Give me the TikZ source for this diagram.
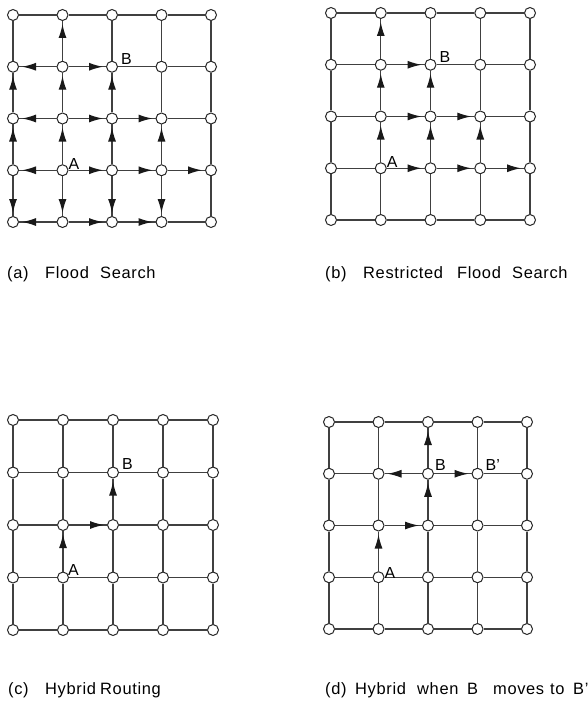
\documentclass[tikz,border=0pt]{standalone}
\usepackage{fontspec}
\setmainfont{Liberation Sans}
\usetikzlibrary{arrows.meta}
\tikzset{
  vtx/.style={circle,draw=black!85,fill=white,line width=1bp,minimum size=11bp,inner sep=0pt},
  gedge/.style={draw=black!75,line width=1.3bp},
  garr/.style={gedge,-{Latex[length=14bp,width=8bp,color=black!90]},shorten >=3bp},
  lbl/.style={anchor=base west,inner sep=0pt,font=\fontsize{16}{19}\selectfont},
  captxt/.style={anchor=base west,inner sep=0pt,font=\fontsize{16.5}{19}\selectfont\addfontfeature{LetterSpace=4}},
}
\newcommand\drawgrid[5]{%
  \foreach \i in {0,...,4}{\foreach \j in {0,...,4}{
    \node[vtx] (#1\i\j) at ({#2+\i*#4},{#3+\j*#5}) {};}}
  \foreach \i in {0,...,4}{\foreach \j [count=\k] in {0,...,3}{
    \draw[gedge] (#1\i\j) -- (#1\i\k);
    \draw[gedge] (#1\j\i) -- (#1\k\i);}}
}
\begin{document}
\begin{tikzpicture}[x=1bp,y=-1bp]
\useasboundingbox (0,0) rectangle (588,702);
% (a) Flood search
\drawgrid{a}{13}{15}{49.5}{51.75}
\foreach \s/\t in {13/03,13/23,13/12,13/14,03/02,03/04,12/02,12/22,12/11,02/01,
  11/01,11/21,11/10,23/33,23/22,23/24,22/32,22/21,33/43,33/32,33/34,14/04,14/24,24/34}
  \draw[garr] (a\s) -- (a\t);
\node[lbl] (aA) at ([xshift=6bp,yshift=1bp]a13.center) {A};
\node[lbl] (aB) at ([xshift=9bp,yshift=2bp]a21.center) {B};
\node[captxt] (capa) at (7,278) {\makebox[38bp][l]{(a)}\makebox[55bp][l]{Flood}Search};
% (b) Restricted flood search
\drawgrid{b}{331}{13}{49.75}{51.75}
\foreach \s/\t in {13/23,23/33,33/43,13/12,12/11,11/10,12/22,22/32,11/21,23/22,22/21,33/32}
  \draw[garr] (b\s) -- (b\t);
\node[lbl] (bA) at ([xshift=6bp,yshift=1bp]b13.center) {A};
\node[lbl] (bB) at ([xshift=9bp,yshift=2bp]b21.center) {B};
\node[captxt] (capb) at (325,278) {\makebox[38bp][l]{(b)}\makebox[94bp][l]{Restricted}\makebox[55bp][l]{Flood}Search};
% (c) Hybrid routing
\drawgrid{c}{13}{420}{50}{52.5}
\foreach \s/\t in {13/12,12/22,22/21}
  \draw[garr] (c\s) -- (c\t);
\node[lbl] (cA) at ([xshift=5bp,yshift=2bp]c13.center) {A};
\node[lbl] (cB) at ([xshift=9bp,yshift=3bp]c21.center) {B};
\node[captxt] (capc) at (8,694) {\makebox[37bp][l]{(c)}\makebox[55bp][l]{Hybrid}Routing};
% (d) Hybrid when B moves to B'
\drawgrid{d}{329}{422}{49.5}{51.75}
\foreach \s/\t in {13/12,12/22,22/21,21/20,21/11,21/31}
  \draw[garr] (d\s) -- (d\t);
\node[lbl] (dA) at ([xshift=6bp,yshift=-1bp]d13.center) {A};
\node[lbl] (dB) at ([xshift=7bp,yshift=3bp]d21.center) {B};
\node[lbl] (dB2) at ([xshift=8bp,yshift=3bp]d31.center) {B'};
\node[captxt] (capd) at (325,694) {\makebox[30bp][l]{(d)}\makebox[62bp][l]{Hybrid}\makebox[50bp][l]{when}\makebox[26bp][l]{B}\makebox[57bp][l]{moves}\makebox[23bp][l]{to}B'};
\end{tikzpicture}
\end{document}
